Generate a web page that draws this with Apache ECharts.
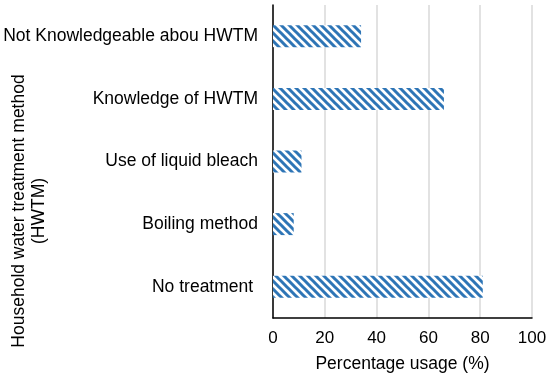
<!DOCTYPE html>
<html><head><meta charset="utf-8">
<script src="https://cdn.jsdelivr.net/npm/echarts@6/dist/echarts.min.js"></script>
<style>html,body{margin:0;padding:0;background:#fff}#c{width:550px;height:378px}</style>
</head><body><div id="c"></div>
<script>
var categories = ["No treatment ", "Boiling method", "Use of liquid bleach", "Knowledge of HWTM", "Not Knowledgeable abou HWTM"];
var values = [81, 8, 11, 66, 34];
var xTicks = [0, 20, 40, 60, 80, 100];

var pc = document.createElement('canvas');
pc.width = 8; pc.height = 8;
var g = pc.getContext('2d');
g.fillStyle = '#fff'; g.fillRect(0,0,8,8);
g.strokeStyle = '#2e75b6'; g.lineWidth = 3; g.lineCap = 'square';
g.beginPath();
g.moveTo(-2,-2); g.lineTo(10,10);
g.moveTo(-10,-2); g.lineTo(2,10);
g.moveTo(6,-2); g.lineTo(18,10);
g.stroke();

var chart = echarts.init(document.getElementById('c'));
var font = 'Liberation Sans, Arial, sans-serif';
chart.setOption({
  animation: false,
  grid: {left: 273, right: 18, top: 5, bottom: 56},
  xAxis: {
    type: 'value', min: 0, max: 100, interval: 20,
    name: 'Percentage usage (%)', nameLocation: 'middle', nameGap: 37,
    nameTextStyle: {fontFamily: font, fontSize: 17.5, color: '#000'},
    axisLine: {show: true, lineStyle: {color: '#000', width: 1.5}},
    axisTick: {show: false},
    axisLabel: {fontFamily: font, fontSize: 17, color: '#000', margin: 12,
      formatter: function(v){ return xTicks.indexOf(v) >= 0 ? String(v) : ''; }},
    splitLine: {show: true, lineStyle: {color: '#d9d9d9', width: 1.5}}
  },
  yAxis: {
    type: 'category', data: categories,
    axisLine: {show: true, lineStyle: {color: '#000', width: 1.5}},
    axisTick: {show: false},
    axisLabel: {fontFamily: font, fontSize: 17.5, color: '#000', margin: 15}
  },
  graphic: [{
    type: 'text', x: 29, y: 211, rotation: Math.PI/2,
    style: {text: 'Household water treatment method\n(HWTM)', fontFamily: font, fontSize: 17.5,
      fill: '#000', align: 'center', verticalAlign: 'middle', lineHeight: 20}
  }],
  series: [{
    type: 'bar', data: values, barWidth: 22,
    itemStyle: {color: {image: pc, repeat: 'repeat'}}
  }]
});
</script></body></html>
